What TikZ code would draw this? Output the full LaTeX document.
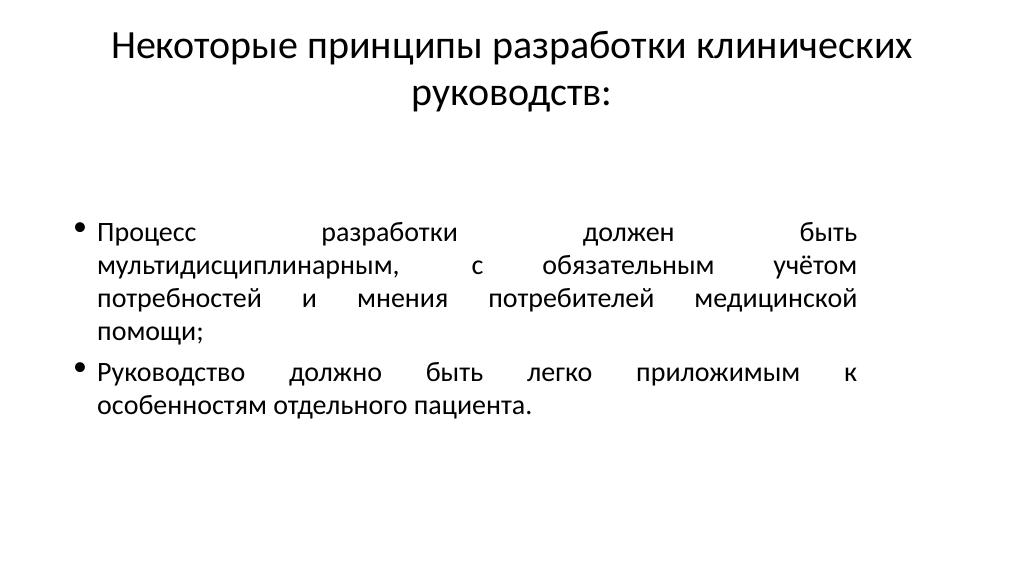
\documentclass[tikz,border=0pt]{standalone}
\usepackage{fontspec}
\setmainfont{Carlito}
\begin{document}
\begin{tikzpicture}[x=1pt,y=-1pt,
 ttl/.style={font=\fontsize{40}{47}\selectfont,align=center,inner sep=0pt},
 body/.style={font=\fontsize{28}{33}\selectfont,text width=760pt,align=justify,inner sep=0pt,anchor=north west},
 bul/.style={font=\fontsize{28}{33}\selectfont,inner sep=0pt,anchor=north west}]
\useasboundingbox (0,0) rectangle (1024,574);
\node[ttl] (title) at (512,72) {Некоторые принципы разработки клинических\\руководств:};
\node[body] (p1) at (97,222) {\hyphenpenalty=10000 Процесс разработки должен быть\linebreak мультидисциплинарным, с обязательным учётом\linebreak потребностей и мнения потребителей медицинской\linebreak помощи;};
\node[bul] (b1) at (73,222) {•};
\node[body] (p2) at (97,362) {\hyphenpenalty=10000 Руководство должно быть легко приложимым к\linebreak особенностям отдельного пациента.};
\node[bul] (b2) at (73,362) {•};
\end{tikzpicture}
\end{document}
